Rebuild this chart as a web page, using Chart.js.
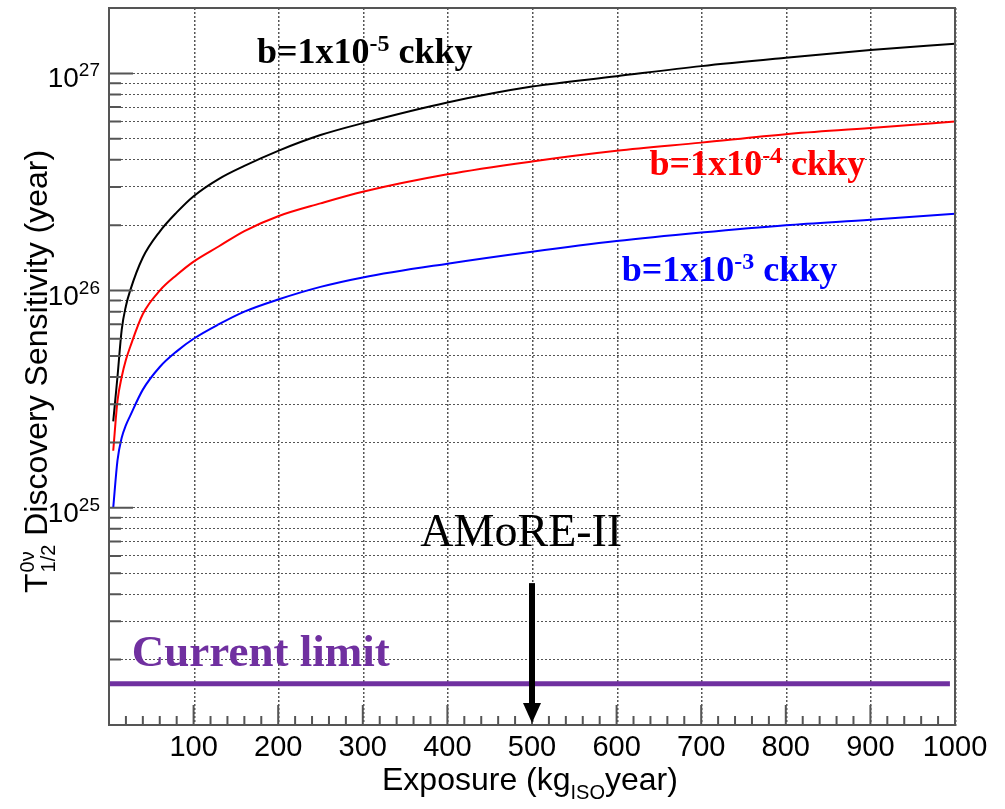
<!DOCTYPE html>
<html>
<head>
<meta charset="utf-8">
<script src="https://cdn.jsdelivr.net/npm/chart.js@4.4.0/dist/chart.umd.min.js"></script>
<style>
  html, body { margin: 0; padding: 0; background: #fff; }
  canvas { display: block; }
</style>
</head>
<body>
<canvas id="sensChart" width="1005" height="809"></canvas>
<script>
// Exposure points (kg_ISO year)
const exposure = [5, 10, 15, 20, 25, 40, 60, 80, 100, 130, 160, 200, 250, 300, 400, 500, 600, 700, 800, 900, 1000];
// Discovery sensitivity (year) for each background level
const sensB1e5 = [2.5e25, 4.0e25, 6.6e25, 8.5e25, 1.0e26, 1.42e26, 1.87e26, 2.29e26, 2.72e26, 3.27e26, 3.75e26, 4.4e26, 5.2e26, 5.9e26, 7.35e26, 8.7e26, 9.7e26, 1.08e27, 1.18e27, 1.28e27, 1.37e27];
const sensB1e4 = [1.83e25, 3.1e25, 4.0e25, 4.8e25, 5.5e25, 7.8e25, 1.0e26, 1.18e26, 1.36e26, 1.6e26, 1.88e26, 2.2e26, 2.52e26, 2.85e26, 3.43e26, 3.93e26, 4.4e26, 4.8e26, 5.25e26, 5.6e26, 6.0e26];
const sensB1e3 = [1.0e25, 1.65e25, 2.1e25, 2.4e25, 2.65e25, 3.5e25, 4.45e25, 5.25e25, 6.0e25, 7.0e25, 8.0e25, 9.1e25, 1.04e26, 1.15e26, 1.33e26, 1.51e26, 1.69e26, 1.85e26, 2.0e26, 2.12e26, 2.26e26];

// Current limit and AMoRE-II marker
const limitExposure = [0, 994];
const limitValue = 1.55e24;
const amoreExposure = 500;
const amoreArrow = [4.5e24, 1e24];

// Axis ticks
const xTickLabels = [100, 200, 300, 400, 500, 600, 700, 800, 900, 1000];
const yDecades = [24, 25, 26, 27];
const yLabelDecades = [25, 26, 27];
const yMin = 1e24, yMax = 2e27;

const purple = "#7030a0";
const sans = "'Liberation Sans', Arial, sans-serif";
const serif = "'Liberation Serif', 'Times New Roman', serif";

// all 1..9 x 10^n grid values inside the range
const yGrid = [];
yDecades.forEach(d => {
    for (let m = 1; m <= 9; m++) {
        const v = m * Math.pow(10, d);
        if (v >= yMin * 0.999 && v <= yMax * 1.001) yGrid.push(v);
    }
});

function toPoints(xs, ys) {
    return xs.map((x, i) => ({ x: x, y: ys[i] }));
}

// text with a raised or lowered piece, parts = [text, size, shift]
function drawParts(ctx, x, y, parts, weight, family, color) {
    ctx.fillStyle = color;
    ctx.textBaseline = "alphabetic";
    ctx.textAlign = "left";
    let cx = x;
    parts.forEach(p => {
        ctx.font = weight + " " + p[1] + "px " + family;
        ctx.fillText(p[0], cx, y + p[2]);
        cx += ctx.measureText(p[0]).width;
    });
}

const decorations = {
    id: "decorations",
    beforeDatasetsDraw(chart) {
        // vertical dotted grid at the labelled x ticks
        const { ctx, chartArea: a, scales: { x } } = chart;
        ctx.save();
        xTickLabels.forEach(v => {
            const px = Math.round(x.getPixelForValue(v));
            for (let py = Math.round(a.top); py < a.bottom; py += 4) {
                ctx.fillStyle = "#555";
                ctx.fillRect(px, py, 1, 2);
                ctx.fillStyle = "#aaa";
                ctx.fillRect(px + 1, py, 1, 2);
            }
        });
        ctx.restore();
    },
    afterDraw(chart) {
        const { ctx, chartArea: a, scales: { x, y } } = chart;
        ctx.save();

        // frame
        ctx.strokeStyle = "#555";
        ctx.lineWidth = 2;
        ctx.strokeRect(a.left, a.top, a.right - a.left, a.bottom - a.top);

        // inside tick marks
        ctx.beginPath();
        for (let v = 20; v < 1000; v += 20) {
            const px = x.getPixelForValue(v);
            const len = v % 100 === 0 ? 20 : 9;
            ctx.moveTo(px, a.bottom);
            ctx.lineTo(px, a.bottom - len);
        }
        yGrid.forEach(v => {
            const py = y.getPixelForValue(v);
            const major = Math.abs(Math.log10(v) - Math.round(Math.log10(v))) < 1e-6;
            ctx.moveTo(a.left, py);
            ctx.lineTo(a.left + (major ? 24 : 12), py);
        });
        ctx.stroke();

        // y tick labels 10^n
        yLabelDecades.forEach(d => {
            const py = y.getPixelForValue(Math.pow(10, d));
            ctx.font = "19px " + sans;
            const ew = ctx.measureText(String(d)).width;
            ctx.font = "28px " + sans;
            const bw = ctx.measureText("10").width;
            const right = a.left - 9;
            drawParts(ctx, right - ew - bw, py + 14, [["10", 28, 0], [String(d), 19, -11]], "", sans, "#000");
        });

        // y axis title
        ctx.save();
        ctx.translate(47, 593);
        ctx.rotate(-Math.PI / 2);
        drawParts(ctx, 0, 0, [["T", 32, 0]], "", sans, "#000");
        ctx.font = "32px " + sans;
        const tw = ctx.measureText("T").width;
        drawParts(ctx, tw + 1, 0, [["0\u03bd", 20, -13]], "", sans, "#000");
        drawParts(ctx, tw + 1, 0, [["1/2", 20, 8]], "", sans, "#000");
        ctx.font = "20px " + sans;
        const sw = ctx.measureText("1/2").width;
        drawParts(ctx, tw + sw + 1, 0, [[" Discovery Sensitivity (year)", 32, 0]], "", sans, "#000");
        ctx.restore();

        // x axis title
        drawParts(ctx, 382, 790, [["Exposure (kg", 32, 0], ["ISO", 20, 9], ["year)", 32, 0]], "", sans, "#000");

        // AMoRE-II arrow
        const ax = x.getPixelForValue(amoreExposure);
        const ay0 = y.getPixelForValue(amoreArrow[0]);
        const ay1 = y.getPixelForValue(amoreArrow[1]) - 2;
        ctx.fillStyle = "#000";
        ctx.fillRect(ax - 3, ay0, 6, ay1 - ay0 - 18);
        ctx.beginPath();
        ctx.moveTo(ax - 9, ay1 - 20);
        ctx.lineTo(ax + 9, ay1 - 20);
        ctx.lineTo(ax, ay1);
        ctx.closePath();
        ctx.fill();

        // annotations
        drawParts(ctx, x.getPixelForValue(368), y.getPixelForValue(6.7e24), [["AMoRE-II", 46, 0]], "", serif, "#000");
        drawParts(ctx, x.getPixelForValue(27), y.getPixelForValue(1.87e24), [["Current limit", 45, 0]], "bold", serif, purple);
        drawParts(ctx, x.getPixelForValue(175), y.getPixelForValue(1.12e27), [["b=1x10", 36, 0], ["-5", 24, -12], [" ckky", 36, 0]], "bold", serif, "#000");
        drawParts(ctx, x.getPixelForValue(639), y.getPixelForValue(3.39e26), [["b=1x10", 36, 0], ["-4", 24, -12], [" ckky", 36, 0]], "bold", serif, "#ff0000");
        drawParts(ctx, x.getPixelForValue(606), y.getPixelForValue(1.11e26), [["b=1x10", 36, 0], ["-3", 24, -12], [" ckky", 36, 0]], "bold", serif, "#0000ff");

        ctx.restore();
    }
};

const lineStyle = { showLine: true, pointRadius: 0, borderWidth: 2, cubicInterpolationMode: "monotone", fill: false };

new Chart(document.getElementById("sensChart").getContext("2d"), {
    type: "scatter",
    data: {
        datasets: [
            Object.assign({ label: "b=1x10-5 ckky", data: toPoints(exposure, sensB1e5), borderColor: "#000000" }, lineStyle),
            Object.assign({ label: "b=1x10-4 ckky", data: toPoints(exposure, sensB1e4), borderColor: "#ff0000" }, lineStyle),
            Object.assign({ label: "b=1x10-3 ckky", data: toPoints(exposure, sensB1e3), borderColor: "#0000ff" }, lineStyle),
            Object.assign({}, lineStyle, { label: "Current limit", data: limitExposure.map(v => ({ x: v, y: limitValue })), borderColor: purple, borderWidth: 5 })
        ]
    },
    options: {
        responsive: false,
        animation: false,
        layout: { padding: { top: 8, right: 50, left: 0, bottom: 0 } },
        plugins: { legend: { display: false }, tooltip: { enabled: false } },
        scales: {
            x: {
                type: "linear",
                min: 0,
                max: 1000,
                afterFit(s) { s.height = 84; },
                afterBuildTicks(s) { s.ticks = [0].concat(xTickLabels).map(v => ({ value: v })); },
                ticks: {
                    autoSkip: false,
                    maxRotation: 0,
                    padding: 6,
                    color: "#000",
                    font: { family: sans, size: 29 },
                    callback: v => (xTickLabels.includes(v) ? String(v) : "")
                },
                grid: { display: false, drawTicks: false },
                border: { display: false }
            },
            y: {
                type: "logarithmic",
                min: yMin,
                max: yMax,
                afterFit(s) { s.width = 109; },
                afterBuildTicks(s) { s.ticks = yGrid.map(v => ({ value: v })); },
                ticks: { display: false },
                grid: { color: "#555", lineWidth: 1, drawTicks: false },
                border: { display: false, dash: [2, 2] }
            }
        }
    },
    plugins: [decorations]
});
</script>
</body>
</html>
